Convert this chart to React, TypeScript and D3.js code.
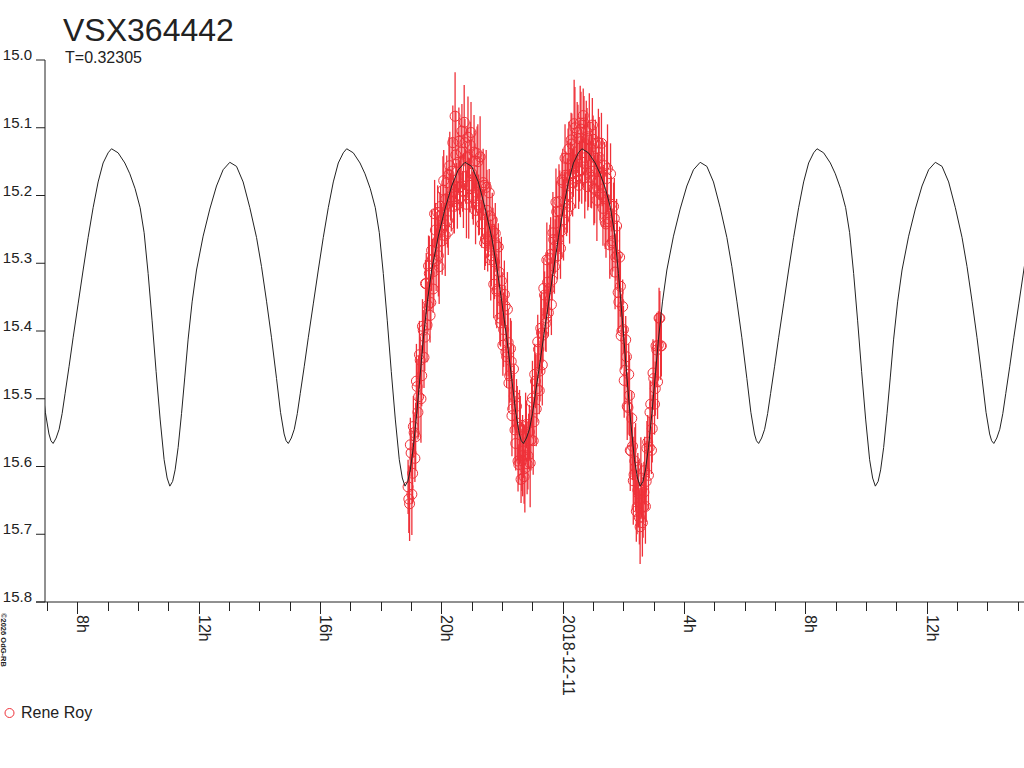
import React from 'react';
import * as d3 from 'd3';

// star + ephemeris
const starName = 'VSX364442';
const periodDays = 0.32305;
const epochHours = -1.296; // primary minimum, hours from 2018-12-11 00:00 UT
const baseDate = Date.UTC(2018, 11, 11);

const xDomain = ['2018-12-10T06:55:48Z', '2018-12-11T15:12:22Z'];
const yTicks = [15.0, 15.1, 15.2, 15.3, 15.4, 15.5, 15.6, 15.7, 15.8];

// fitted light curve, one cycle (phase from primary minimum)
const curvePhase = [
  0, 0.0128, 0.0255, 0.0383, 0.051, 0.068, 0.085, 0.1063, 0.1276, 0.1488, 0.1701, 0.1914, 0.2126, 0.2339, 0.2483,
  0.2764, 0.3049, 0.3262, 0.3487, 0.37, 0.387, 0.404, 0.421, 0.438, 0.455, 0.472, 0.4848, 0.4963,
  0.5082, 0.5188, 0.5316, 0.546, 0.56, 0.5741, 0.5911, 0.6098, 0.6379, 0.6663, 0.6948, 0.7229, 0.7514,
  0.7799, 0.808, 0.8365, 0.865, 0.8862, 0.9075, 0.9287, 0.95, 0.967, 0.9823, 0.9908, 1,
];
const curveMag = [
  15.566, 15.558, 15.545, 15.522, 15.492, 15.452, 15.41, 15.36, 15.31, 15.262, 15.218, 15.18, 15.152, 15.137, 15.131,
  15.137, 15.152, 15.168, 15.19, 15.218, 15.255, 15.315, 15.385, 15.46, 15.53, 15.59, 15.617, 15.629,
  15.622, 15.605, 15.572, 15.522, 15.468, 15.412, 15.357, 15.31, 15.26, 15.22, 15.186, 15.162, 15.151,
  15.157, 15.18, 15.218, 15.262, 15.305, 15.356, 15.41, 15.47, 15.52, 15.552, 15.562, 15.566,
];

// observations (Rene Roy), hours from 2018-12-11 00:00 UT
const obsHours = [
  -5.10, -5.05, -5.00, -4.95, -4.90, -4.85, -4.80, -4.75, -4.70, -4.65, -4.60, -4.55,
  -4.50, -4.45, -4.40, -4.35, -4.30, -4.25, -4.20, -4.15, -4.10, -4.05, -4.00, -3.95,
  -3.90, -3.85, -3.80, -3.75, -3.70, -3.65, -3.60, -3.55, -3.50, -3.45, -3.40, -3.35,
  -3.30, -3.25, -3.20, -3.15, -3.10, -3.05, -3.00, -2.95, -2.90, -2.85, -2.80, -2.75,
  -2.70, -2.65, -2.60, -2.55, -2.50, -2.45, -2.40, -2.35, -2.30, -2.25, -2.20, -2.15,
  -2.10, -2.05, -2.00, -1.95, -1.90, -1.85, -1.80, -1.75, -1.70, -1.65, -1.60, -1.55,
  -1.50, -1.45, -1.40, -1.35, -1.30, -1.25, -1.20, -1.15, -1.10, -1.05, -1.00, -0.95,
  -0.90, -0.85, -0.80, -0.75, -0.70, -0.65, -0.60, -0.55, -0.50, -0.45, -0.40, -0.35,
  -0.30, -0.25, -0.20, -0.15, -0.10, -0.05, 0.00, 0.05, 0.10, 0.15, 0.20, 0.25,
  0.30, 0.35, 0.40, 0.45, 0.50, 0.55, 0.60, 0.65, 0.70, 0.75, 0.80, 0.85,
  0.90, 0.95, 1.00, 1.05, 1.10, 1.15, 1.20, 1.25, 1.30, 1.35, 1.40, 1.45,
  1.50, 1.55, 1.60, 1.65, 1.70, 1.75, 1.80, 1.85, 1.90, 1.95, 2.00, 2.05,
  2.10, 2.15, 2.20, 2.25, 2.30, 2.35, 2.40, 2.45, 2.50, 2.55, 2.60, 2.65,
  2.70, 2.75, 2.80, 2.85, 2.90, 2.95, 3.00, 3.05, 3.10, 3.15, 3.20, 3.25,
  -5.075, -5.025, -4.975, -4.925, -4.875, -4.825, -4.775, -4.725, -4.675, -4.625, -4.575, -4.525,
  -4.475, -4.425, -4.375, -4.325, -4.275, -4.225, -4.175, -4.125, -4.075, -4.025, -3.975, -3.925,
  -3.875, -3.825, -3.775, -3.725, -3.675, -3.625, -3.575, -3.525, -3.475, -3.425, -3.375, -3.325,
  -3.275, -3.225, -3.175, -3.125, -3.075, -3.025, -2.975, -2.925, -2.875, -2.825, -2.775, -2.725,
  -2.675, -2.625, -2.575, -2.525, -2.475, -2.425, -2.375, -2.325, -2.275, -2.225, -2.175, -2.125,
  -2.075, -2.025, -1.975, -1.925, -1.875, -1.825, -1.775, -1.725, -1.675, -1.625, -1.575, -1.525,
  -1.475, -1.425, -1.375, -1.325, -1.275, -1.225, -1.175, -1.125, -1.075, -1.025, -0.975, -0.925,
  -0.875, -0.825, -0.775, -0.725, -0.675, -0.625, -0.575, -0.525, -0.475, -0.425, -0.375, -0.325,
  -0.275, -0.225, -0.175, -0.125, -0.075, -0.025, 0.025, 0.075, 0.125, 0.175, 0.225, 0.275,
  0.325, 0.375, 0.425, 0.475, 0.525, 0.575, 0.625, 0.675, 0.725, 0.775, 0.825, 0.875,
  0.925, 0.975, 1.025, 1.075, 1.125, 1.175, 1.225, 1.275, 1.325, 1.375, 1.425, 1.475,
  1.525, 1.575, 1.625, 1.675, 1.725, 1.775, 1.825, 1.875, 1.925, 1.975, 2.025, 2.075,
  2.125, 2.175, 2.225, 2.275, 2.325, 2.375, 2.425, 2.475, 2.525, 2.575, 2.625, 2.675,
  2.725, 2.775, 2.825, 2.875, 2.925, 2.975, 3.025, 3.075, 3.125, 3.175, 3.225,
];
const obsMag = [
  15.630, 15.655, 15.580, 15.610, 15.550, 15.556, 15.482, 15.497, 15.443, 15.466, 15.399, 15.409,
  15.330, 15.362, 15.315, 15.358, 15.294, 15.312, 15.251, 15.270, 15.289, 15.230, 15.251, 15.192,
  15.243, 15.205, 15.237, 15.169, 15.202, 15.164, 15.209, 15.083, 15.187, 15.151, 15.188, 15.136,
  15.194, 15.092, 15.172, 15.143, 15.204, 15.126, 15.167, 15.203, 15.149, 15.195, 15.150, 15.218,
  15.187, 15.226, 15.185, 15.264, 15.222, 15.261, 15.230, 15.289, 15.253, 15.298, 15.273, 15.338,
  15.313, 15.388, 15.353, 15.398, 15.363, 15.438, 15.417, 15.466, 15.445, 15.515, 15.496, 15.566,
  15.536, 15.597, 15.546, 15.591, 15.577, 15.603, 15.538, 15.584, 15.549, 15.561, 15.499, 15.534,
  15.474, 15.485, 15.427, 15.459, 15.403, 15.406, 15.347, 15.381, 15.328, 15.338, 15.287, 15.325,
  15.265, 15.275, 15.224, 15.264, 15.223, 15.252, 15.181, 15.210, 15.170, 15.200, 15.131, 15.171,
  15.124, 15.167, 15.100, 15.148, 15.116, 15.164, 15.102, 15.151, 15.093, 15.144, 15.116, 15.167,
  15.131, 15.164, 15.117, 15.191, 15.145, 15.179, 15.144, 15.199, 15.166, 15.202, 15.239, 15.175,
  15.234, 15.273, 15.213, 15.267, 15.234, 15.291, 15.288, 15.357, 15.334, 15.400, 15.398, 15.458,
  15.438, 15.513, 15.495, 15.577, 15.570, 15.612, 15.601, 15.660, 15.640, 15.689, 15.635, 15.660,
  15.606, 15.622, 15.564, 15.572, 15.508, 15.544, 15.470, 15.485, 15.428, 15.421, 15.381, 15.422,
  15.648, 15.568, 15.641, 15.541, 15.588, 15.474, 15.520, 15.435, 15.500, 15.393, 15.439, 15.330,
  15.391, 15.304, 15.377, 15.281, 15.338, 15.227, 15.296, 15.225, 15.305, 15.216, 15.267, 15.178,
  15.259, 15.181, 15.253, 15.156, 15.208, 15.122, 15.216, 15.140, 15.214, 15.120, 15.187, 15.105,
  15.193, 15.122, 15.213, 15.114, 15.185, 15.107, 15.200, 15.136, 15.222, 15.138, 15.214, 15.143,
  15.242, 15.181, 15.270, 15.188, 15.267, 15.196, 15.295, 15.236, 15.331, 15.256, 15.341, 15.276,
  15.381, 15.326, 15.421, 15.346, 15.431, 15.368, 15.477, 15.426, 15.525, 15.456, 15.546, 15.511,
  15.592, 15.542, 15.619, 15.584, 15.615, 15.541, 15.596, 15.562, 15.595, 15.505, 15.562, 15.464,
  15.515, 15.416, 15.488, 15.396, 15.450, 15.337, 15.389, 15.295, 15.373, 15.293, 15.361, 15.255,
  15.305, 15.210, 15.289, 15.209, 15.278, 15.177, 15.236, 15.145, 15.225, 15.146, 15.216, 15.118,
  15.181, 15.094, 15.179, 15.107, 15.185, 15.093, 15.162, 15.082, 15.174, 15.105, 15.187, 15.099,
  15.173, 15.096, 15.189, 15.123, 15.207, 15.122, 15.197, 15.123, 15.219, 15.156, 15.242, 15.160,
  15.239, 15.168, 15.270, 15.216, 15.313, 15.245, 15.343, 15.291, 15.407, 15.364, 15.473, 15.413,
  15.511, 15.464, 15.576, 15.529, 15.621, 15.592, 15.666, 15.635, 15.675, 15.617, 15.683, 15.638,
  15.659, 15.573, 15.613, 15.520, 15.576, 15.462, 15.508, 15.422, 15.475, 15.381, 15.422,
];
const obsErr = [
  0.040, 0.055, 0.035, 0.045, 0.030, 0.050, 0.040, 0.060, 0.035, 0.045, 0.030, 0.050,
  0.045, 0.035, 0.055, 0.040, 0.030, 0.050, 0.040, 0.045, 0.060, 0.035, 0.040, 0.050,
  0.030, 0.045, 0.040, 0.055, 0.035, 0.050, 0.040, 0.065, 0.035, 0.045, 0.040, 0.050,
  0.030, 0.055, 0.040, 0.045, 0.060, 0.035, 0.050, 0.040, 0.045, 0.030, 0.055, 0.040,
  0.050, 0.035, 0.045, 0.040, 0.060, 0.030, 0.050, 0.045, 0.035, 0.055, 0.040, 0.045,
  0.050, 0.035, 0.040, 0.055, 0.030, 0.045, 0.050, 0.040, 0.060, 0.035, 0.045, 0.040,
  0.055, 0.030, 0.050, 0.045, 0.040, 0.065, 0.035, 0.050, 0.040, 0.045, 0.055, 0.035,
  0.040, 0.050, 0.030, 0.045, 0.060, 0.040, 0.035, 0.050, 0.045, 0.040, 0.055, 0.030,
  0.050, 0.040, 0.045, 0.035, 0.060, 0.040, 0.050, 0.045, 0.035, 0.055, 0.040, 0.050,
  0.045, 0.035, 0.060, 0.040, 0.050, 0.045, 0.055, 0.035, 0.040, 0.065, 0.045, 0.050,
  0.040, 0.055, 0.035, 0.050, 0.045, 0.040, 0.060, 0.035, 0.050, 0.045, 0.040, 0.055,
  0.035, 0.050, 0.040, 0.045, 0.060, 0.035, 0.050, 0.040, 0.045, 0.055, 0.035, 0.050,
  0.045, 0.040, 0.060, 0.035, 0.050, 0.045, 0.065, 0.040, 0.050, 0.055, 0.040, 0.045,
  0.050, 0.060, 0.040, 0.045, 0.035, 0.050, 0.045, 0.040, 0.055, 0.050, 0.040, 0.045,
  0.050, 0.040, 0.060, 0.045, 0.035, 0.055, 0.040, 0.050, 0.065, 0.040, 0.045, 0.035,
  0.055, 0.045, 0.040, 0.060, 0.035, 0.050, 0.045, 0.040, 0.055, 0.030, 0.050, 0.045,
  0.060, 0.040, 0.035, 0.050, 0.045, 0.055, 0.040, 0.065, 0.035, 0.050, 0.045, 0.040,
  0.055, 0.035, 0.050, 0.060, 0.040, 0.045, 0.035, 0.055, 0.050, 0.040, 0.045, 0.060,
  0.035, 0.050, 0.040, 0.055, 0.045, 0.035, 0.060, 0.040, 0.050, 0.045, 0.055, 0.035,
  0.040, 0.065, 0.045, 0.050, 0.035, 0.055, 0.040, 0.045, 0.060, 0.035, 0.050, 0.040,
  0.045, 0.055, 0.035, 0.060, 0.040, 0.050, 0.045, 0.040, 0.065, 0.035, 0.050, 0.045,
  0.055, 0.040, 0.035, 0.050, 0.060, 0.045, 0.040, 0.055, 0.035, 0.050, 0.045, 0.060,
  0.040, 0.050, 0.035, 0.055, 0.045, 0.040, 0.060, 0.050, 0.035, 0.045, 0.055, 0.040,
  0.050, 0.065, 0.040, 0.045, 0.035, 0.055, 0.050, 0.040, 0.060, 0.045, 0.035, 0.050,
  0.045, 0.040, 0.055, 0.035, 0.060, 0.050, 0.040, 0.045, 0.055, 0.035, 0.050, 0.065,
  0.040, 0.045, 0.050, 0.035, 0.055, 0.040, 0.060, 0.045, 0.050, 0.040, 0.055, 0.035,
  0.050, 0.045, 0.060, 0.040, 0.065, 0.050, 0.045, 0.055, 0.040, 0.060, 0.050, 0.045,
  0.055, 0.040, 0.050, 0.045, 0.035, 0.050, 0.045, 0.040, 0.055, 0.045, 0.050,
];
const observer = 'Rene Roy';
const credit = '©2026 OdG-RB';

const W = 1024;
const H = 768;
const plotLeft = 45;
const plotRight = 1024;
const plotTop = 60;
const plotBottom = 602;
const RED = '#ef3139';
const INK = '#222';
const FONT = '"Liberation Sans", Arial, sans-serif';

const hourDate = (h: number) => new Date(baseDate + h * 3600e3);
const dateHour = (d: Date) => (+d - baseDate) / 3600e3;

const App: React.FC = () => {
  const x = d3.scaleUtc().domain(xDomain.map(d => new Date(d))).range([plotLeft, plotRight]);
  const y = d3.scaleLinear().domain([15.0, 15.8]).range([plotTop, plotBottom]);

  // repeat the one-cycle fit across the visible time span
  const P = periodDays * 24;
  const [d0, d1] = x.domain();
  const kStart = Math.floor((dateHour(d0) - epochHours) / P);
  const kEnd = Math.ceil((dateHour(d1) - epochHours) / P);
  const model: [number, number][] = [];
  for (let k = kStart; k < kEnd; k++) {
    curvePhase.forEach((ph, i) => {
      if (i === 0 && k > kStart) return;
      model.push([epochHours + (k + ph) * P, curveMag[i]]);
    });
  }
  const line = d3.line<[number, number]>()
    .x(d => x(hourDate(d[0])))
    .y(d => y(d[1]));

  const ticks = x.ticks(d3.utcHour.every(1)!);
  const fmtDay = d3.utcFormat('%Y-%m-%d');

  const obs = obsHours.map((h, i) => ({ t: hourDate(h), m: obsMag[i], e: obsErr[i] }));

  return (
    <div style={{ position: 'absolute', left: 0, top: 0 }}>
      <svg width={W} height={H} style={{ display: 'block', background: '#fff' }} fontFamily={FONT}>
        <defs>
          <clipPath id="plot-clip">
            <rect x={plotLeft} y={0} width={plotRight - plotLeft} height={plotBottom} />
          </clipPath>
        </defs>

        {/* title */}
        <text x={63} y={41} fontSize={32} fill={INK}>{starName}</text>
        <text x={65} y={63} fontSize={16} fill={INK}>T={periodDays}</text>

        {/* y axis */}
        <line x1={plotLeft} x2={plotLeft} y1={plotTop} y2={plotBottom} stroke={INK} />
        {yTicks.map(v => (
          <g key={v}>
            <line x1={36} x2={plotLeft} y1={y(v)} y2={y(v)} stroke={INK} />
            <text x={32} y={y(v)} fontSize={15} textAnchor="end" fill={INK}>{v.toFixed(1)}</text>
          </g>
        ))}

        {/* x axis */}
        <line x1={36} x2={plotRight} y1={plotBottom} y2={plotBottom} stroke={INK} />
        {ticks.map(d => {
          const hr = d.getUTCHours();
          const major = hr % 4 === 0;
          const tx = Math.round(x(d)) + 0.5;
          return (
            <g key={+d}>
              <line x1={tx} x2={tx} y1={plotBottom} y2={plotBottom + (major ? 12 : 9)} stroke={INK} />
              {major && (
                <text transform={`translate(${tx - 0.5},${plotBottom + 13}) rotate(90)`} fontSize={16} fill={INK}>
                  {hr === 0 ? fmtDay(d) : `${hr}h`}
                </text>
              )}
            </g>
          );
        })}

        {/* observations */}
        <g clipPath="url(#plot-clip)">
          {obs.map((o, i) => (
            <line key={`e${i}`} x1={x(o.t)} x2={x(o.t)} y1={y(o.m - o.e)} y2={y(o.m + o.e)} stroke={RED} strokeWidth={1.3} />
          ))}
          {obs.map((o, i) => (
            <circle key={`c${i}`} cx={x(o.t)} cy={y(o.m)} r={5} fill="none" stroke={RED} strokeWidth={1} />
          ))}
          <path d={line(model) || ''} fill="none" stroke={INK} strokeWidth={1} />
        </g>

        {/* credit */}
        <text transform="translate(1,613) rotate(90)" fontSize={7.5} fontWeight="bold" fill={INK}>{credit}</text>

        {/* legend */}
        <circle cx={9.5} cy={713} r={4.5} fill="none" stroke={RED} />
        <text x={21} y={718} fontSize={16} fill={INK}>{observer}</text>
      </svg>
    </div>
  );
};

export default App;
